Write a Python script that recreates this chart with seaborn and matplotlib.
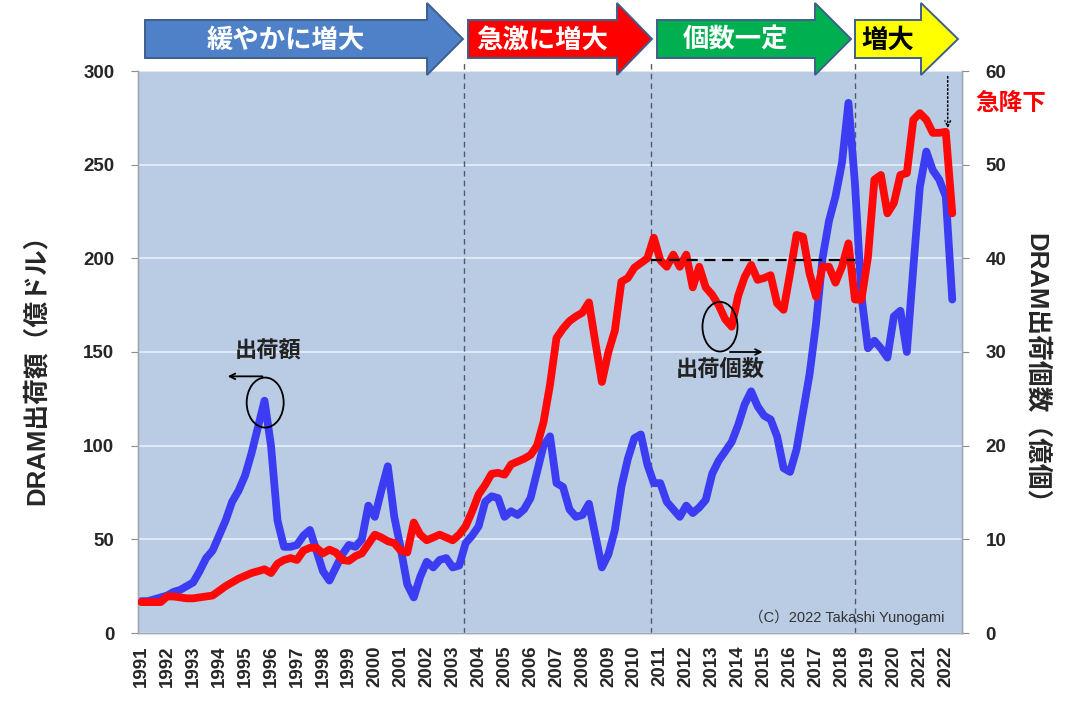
import numpy as np
import pandas as pd
import seaborn as sns
import matplotlib.pyplot as plt
from matplotlib.patches import Ellipse, Polygon

# quarterly data, 1991Q1 .. 2022Q2
years = list(range(1991, 2023))
n_quarters = 126

# DRAM shipment value (億ドル), left axis
shipment_value = [
    17, 17, 18, 19, 20, 22, 23, 25, 27, 33,
    40, 44, 52, 60, 70, 76, 84, 96, 110, 124,
    100, 60, 46, 46, 47, 52, 55, 44, 33, 28,
    35, 42, 47, 46, 50, 68, 62, 76, 89, 62,
    45, 26, 19, 30, 38, 35, 39, 40, 35, 36,
    48, 52, 57, 70, 73, 72, 62, 65, 63, 66,
    72, 86, 100, 105, 80, 78, 66, 62, 63, 69,
    52, 35, 42, 55, 78, 93, 104, 106, 90, 80,
    80, 70, 66, 62, 68, 64, 67, 71, 85, 92,
    97, 102, 111, 122, 129, 121, 116, 114, 105, 88,
    86, 98, 118, 138, 165, 200, 220, 233, 251, 283,
    240, 180, 152, 156, 152, 147, 169, 172, 150, 195,
    238, 257, 247, 242, 233, 178,
]

# DRAM shipment units (億個), right axis
shipment_units = [
    3.3, 3.3, 3.3, 3.3, 3.9, 3.9, 3.8, 3.7, 3.7, 3.8,
    3.9, 4.0, 4.5, 5.0, 5.4, 5.8, 6.1, 6.4, 6.6, 6.8,
    6.4, 7.4, 7.8, 8.0, 7.8, 8.8, 9.1, 9.1, 8.5, 8.9,
    8.6, 7.8, 7.7, 8.2, 8.5, 9.5, 10.5, 10.2, 9.8, 9.6,
    8.8, 8.6, 11.8, 10.5, 9.9, 10.2, 10.5, 10.2, 9.9, 10.5,
    11.4, 13.0, 14.8, 15.8, 17.0, 17.1, 16.9, 18.0, 18.3, 18.6,
    19.0, 20.0, 22.5, 26.5, 31.5, 32.5, 33.3, 33.8, 34.2, 35.3,
    31.0, 26.8, 30.0, 32.3, 37.5, 37.9, 39.0, 39.5, 40.0, 42.2,
    39.8, 39.1, 40.4, 39.1, 40.4, 36.9, 39.1, 36.9, 36.1, 35.0,
    33.5, 32.7, 36.0, 38.0, 39.3, 37.7, 37.9, 38.2, 35.2, 34.5,
    38.4, 42.5, 42.3, 38.4, 35.9, 39.1, 39.1, 37.4, 39.1, 41.6,
    35.6, 35.6, 40.1, 48.4, 48.9, 44.8, 45.9, 48.9, 49.1, 54.8,
    55.5, 54.8, 53.4, 53.4, 53.5, 44.8,
]

phase_labels = ['緩やかに増大', '急激に増大', '個数一定', '増大']
phase_colors = ['#4F81C9', '#FF0000', '#00B050', '#FFFF00']
phase_text_colors = ['white', 'white', 'white', 'black']
phase_bounds = [49.7, 78.5, 110.0]   # quarter index of the dashed lines
flat_units_level = 39.8

BLUE = '#3C3CF2'
RED = '#FF0808'
BG = '#B9CCE4'
JP = ['Liberation Sans', 'Noto Sans CJK JP']

df = pd.DataFrame({
    'q': np.arange(n_quarters),
    'value': shipment_value,
    'units': shipment_units,
})

sns.set_style('white')
plt.rcParams['font.family'] = JP
plt.rcParams['font.weight'] = 'bold'

fig = plt.figure(figsize=(10.8, 7.05), dpi=100)
ax = fig.add_axes([138 / 1080, 72 / 705, 824 / 1080, 562 / 705])
ax.set_facecolor(BG)

sns.lineplot(data=df, x='q', y='value', ax=ax, color=BLUE, lw=5.6,
             solid_joinstyle='round', solid_capstyle='round', zorder=3)
ax2 = ax.twinx()
sns.lineplot(data=df, x='q', y='units', ax=ax2, color=RED, lw=5.6,
             solid_joinstyle='round', solid_capstyle='round', zorder=3)

ax.set_xlim(-0.5, n_quarters + 0.5)
ax.set_ylim(0, 300)
ax2.set_ylim(0, 60)
ax.set_yticks(range(0, 301, 50))
ax2.set_yticks(range(0, 61, 10))
ax.set_xticks(np.arange(0, n_quarters, 4))
ax.set_xticklabels([str(y) for y in years], rotation=90)
ax.set_xticks(np.arange(n_quarters + 1), minor=True)

ax.yaxis.grid(True, color='#E4ECF6', lw=1.3)
ax.set_axisbelow(True)

for a in (ax, ax2):
    for s in a.spines.values():
        s.set_color('#A0A8B4')
        s.set_linewidth(1.0)
    a.spines['top'].set_visible(False)

ax.tick_params(axis='y', length=5, color='#8C8C8C', pad=12, labelsize=13.5)
ax2.tick_params(axis='y', length=5, color='#8C8C8C', pad=12, labelsize=13.5)
ax.tick_params(axis='x', which='both', length=4, color='#8C8C8C', pad=5,
               labelsize=13.5)
ax.tick_params(axis='x', which='minor', length=4)

ax.set_xlabel('')
ax.set_ylabel('DRAM出荷額（億ドル）', fontsize=18.5, fontweight='bold')
ax2.set_ylabel('DRAM出荷個数（億個）', fontsize=18.5, fontweight='bold',
               rotation=-90)
ax.yaxis.set_label_coords(-0.108, 0.48)
ax2.yaxis.set_label_coords(1.105, 0.46)

# phase separators and flat level
for b in phase_bounds:
    ax.axvline(b, ymin=0, ymax=1.02, color='#4F5B6A', lw=1.0,
               ls=(0, (4, 3)), zorder=2, clip_on=False)
ax2.hlines(flat_units_level, phase_bounds[1], phase_bounds[2], color='black',
           lw=1.6, ls=(0, (5, 3)), zorder=4)

# annotation: value peak
peak_i = int(np.argmax(shipment_value[:40]))
ax.add_patch(Ellipse((peak_i + 0.1, shipment_value[peak_i] - 1), 5.7, 26.7,
                     fill=False, ec='black', lw=1.3, zorder=5))
ax.annotate('', xy=(12.9, 137), xytext=(peak_i + 0.1, 137),
            arrowprops=dict(arrowstyle='->', color='black', lw=1.3))
ax.text(19.5, 150, '出荷額', ha='center', va='center', fontsize=16,
        fontweight='bold', color='#222222')

# annotation: units dip
ax2.add_patch(Ellipse((89.2, 32.7), 5.4, 5.3, fill=False, ec='black',
                      lw=1.3, zorder=5))
ax2.annotate('', xy=(96.2, 30.0), xytext=(90.3, 30.0),
             arrowprops=dict(arrowstyle='->', color='black', lw=1.3))
ax2.text(89.3, 28.1, '出荷個数', ha='center', va='center', fontsize=16,
         fontweight='bold', color='#222222')

# sudden drop
ax2.annotate('', xy=(124.3, 53.6), xytext=(124.3, 59.7),
             arrowprops=dict(arrowstyle='->', color='black', lw=1.1,
                             linestyle=':'))
fig.text(975 / 1080, 1 - 103 / 705, '急降下', color='#FF0000', fontsize=17,
         fontweight='bold', ha='left', va='center')

ax.text(0.979, 0.028, '（C）2022 Takashi Yunogami', transform=ax.transAxes,
        ha='right', va='center', fontsize=10.5, fontweight='normal',
        color='#333333')

# block arrows at the top (pixel geometry)
arrow_geom = [(145, 427, 463), (468, 617, 652), (657, 815, 851), (855, 921, 958)]
W, H = 1080, 705


def px(x, y):
    return (x / W, 1 - y / H)


for (x0, xh, tip), label, fc, tc in zip(arrow_geom, phase_labels,
                                        phase_colors, phase_text_colors):
    pts = [px(x0, 20), px(xh, 20), px(xh, 3), px(tip, 39), px(xh, 75),
           px(xh, 58), px(x0, 58)]
    fig.add_artist(Polygon(pts, closed=True, fc=fc, ec='#3E5F8C', lw=1.4,
                           transform=fig.transFigure))
    fig.text(*px((x0 + xh) / 2, 40), label, color=tc, fontsize=19,
             fontweight='bold', ha='center', va='center')

fig.savefig('out.png', dpi=100)
